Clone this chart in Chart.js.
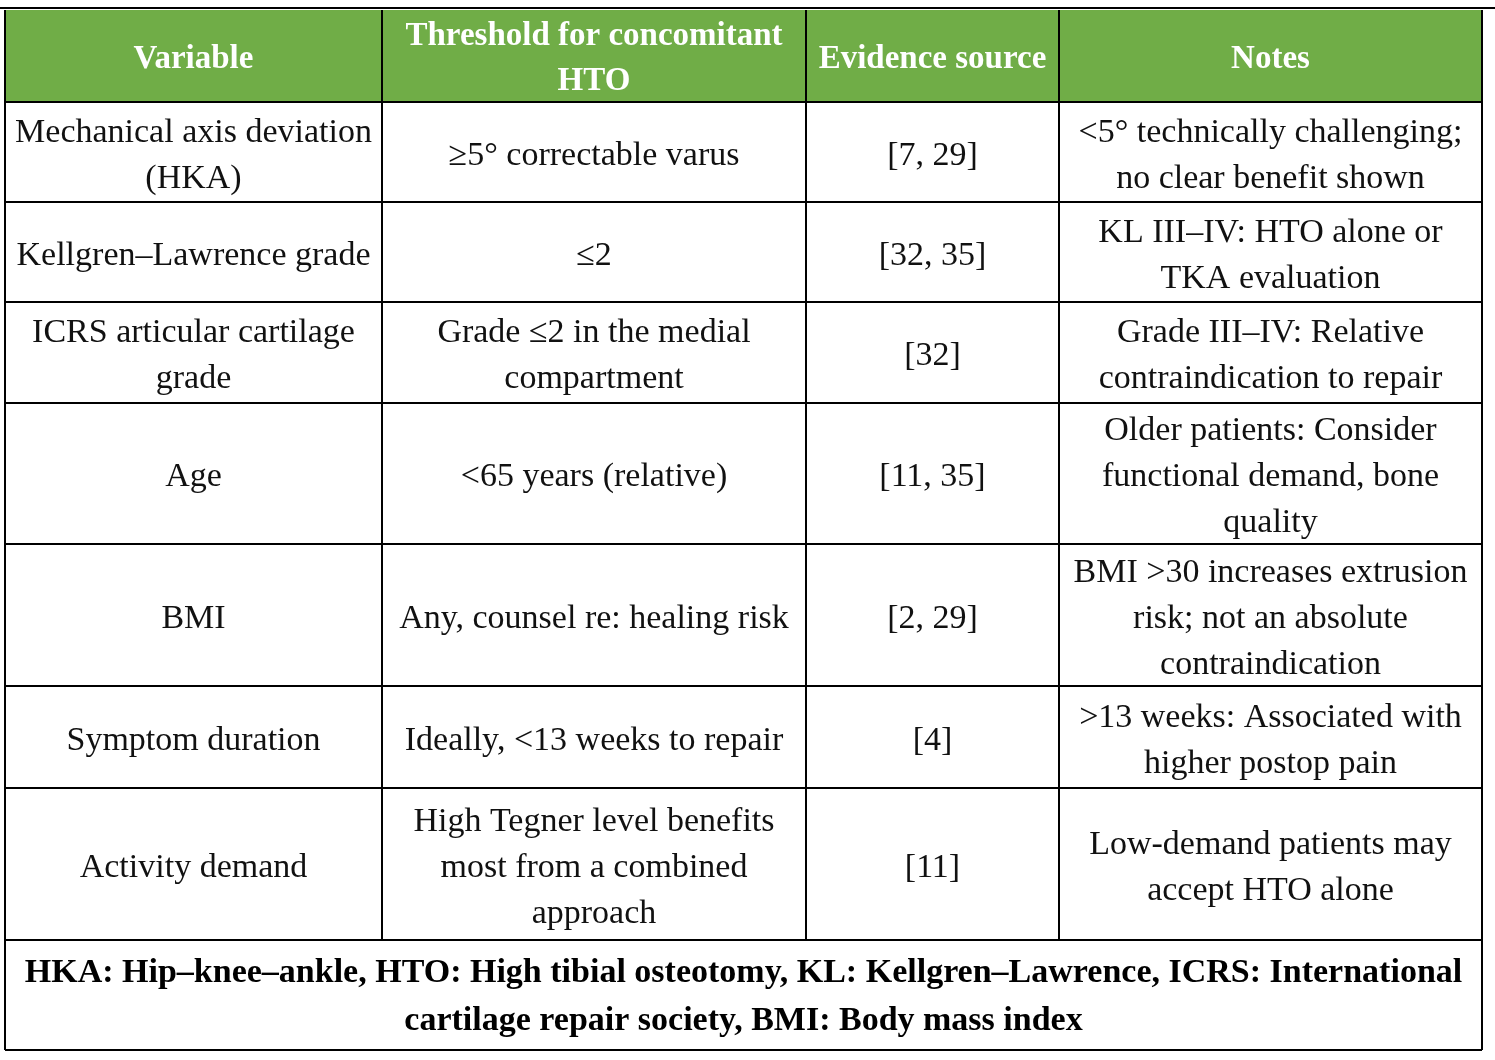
<!DOCTYPE html>
<html><head><meta charset="utf-8">
<script src="https://cdn.jsdelivr.net/npm/chart.js@4"></script>
<style>html,body{margin:0;padding:0;background:#fff}</style>
</head><body>
<canvas id="c" width="1495" height="1060"></canvas>
<script>
const headers = [["Variable"],["Threshold for concomitant","HTO"],["Evidence source"],["Notes"]];
const variables = [["Mechanical axis deviation","(HKA)"],["Kellgren–Lawrence grade"],["ICRS articular cartilage","grade"],["Age"],["BMI"],["Symptom duration"],["Activity demand"]];
const thresholds = [["≥5° correctable varus"],["≤2"],["Grade ≤2 in the medial","compartment"],["<65 years (relative)"],["Any, counsel re: healing risk"],["Ideally, <13 weeks to repair"],["High Tegner level benefits","most from a combined","approach"]];
const sources = [["[7, 29]"],["[32, 35]"],["[32]"],["[11, 35]"],["[2, 29]"],["[4]"],["[11]"]];
const notes = [["<5° technically challenging;","no clear benefit shown"],["KL III–IV: HTO alone or","TKA evaluation"],["Grade III–IV: Relative","contraindication to repair"],["Older patients: Consider","functional demand, bone","quality"],["BMI >30 increases extrusion","risk; not an absolute","contraindication"],[">13 weeks: Associated with","higher postop pain"],["Low-demand patients may","accept HTO alone"]];
const footnote = ["HKA: Hip–knee–ankle, HTO: High tibial osteotomy, KL: Kellgren–Lawrence, ICRS: International","cartilage repair society, BMI: Body mass index"];

const colX = [5,382,806,1059,1482];
const rowY = [10,102,202,302,403,544,686,788,940,1050];

const tablePlugin = {
  id:'table',
  afterDraw(chart){
    const ctx = chart.ctx;
    ctx.save();
    ctx.fillStyle='#fff'; ctx.fillRect(0,0,1495,1060);
    ctx.fillStyle='#70AD47';
    ctx.fillRect(colX[0],rowY[0],colX[4]-colX[0],rowY[1]-rowY[0]);
    ctx.textAlign='center'; ctx.textBaseline='middle';
    function cell(lines,x0,x1,y0,y1,font,color,lh,dy){
      ctx.font=font; ctx.fillStyle=color;
      const cy=(y0+y1)/2+dy, n=lines.length;
      lines.forEach((t,i)=>ctx.fillText(t,(x0+x1)/2,cy+(i-(n-1)/2)*lh));
    }
    headers.forEach((h,i)=>cell(h,colX[i],colX[i+1],rowY[0],rowY[1],'bold 33px "Liberation Serif"','#fff',45,3));
    const cols=[variables,thresholds,sources,notes];
    for(let r=0;r<variables.length;r++){
      cols.forEach((c,i)=>cell(c[r],colX[i],colX[i+1],rowY[r+1],rowY[r+2],'34px "Liberation Serif"','#111',46,4));
    }
    cell(footnote,colX[0],colX[4],rowY[8],rowY[9],'bold 34px "Liberation Serif"','#000',48,2);
    ctx.strokeStyle='#000'; ctx.lineWidth=2;
    ctx.beginPath();
    ctx.moveTo(0,rowY[0]-2);ctx.lineTo(1495,rowY[0]-2);
    rowY.slice(1).forEach(y=>{ctx.moveTo(colX[0],y);ctx.lineTo(colX[4],y);});
    colX.forEach((x,i)=>{ctx.moveTo(x,rowY[0]);ctx.lineTo(x,(i===0||i===4)?rowY[9]:rowY[8]);});
    ctx.stroke();
    ctx.restore();
  }
};
new Chart(document.getElementById('c'),{
  type:'bar',
  data:{labels:variables.map(v=>v.join(' ')),datasets:[]},
  options:{responsive:false,animation:false,devicePixelRatio:1,
    plugins:{legend:{display:false},tooltip:{enabled:false}},
    scales:{x:{display:false},y:{display:false}}},
  plugins:[tablePlugin]
});
</script>
</body></html>
